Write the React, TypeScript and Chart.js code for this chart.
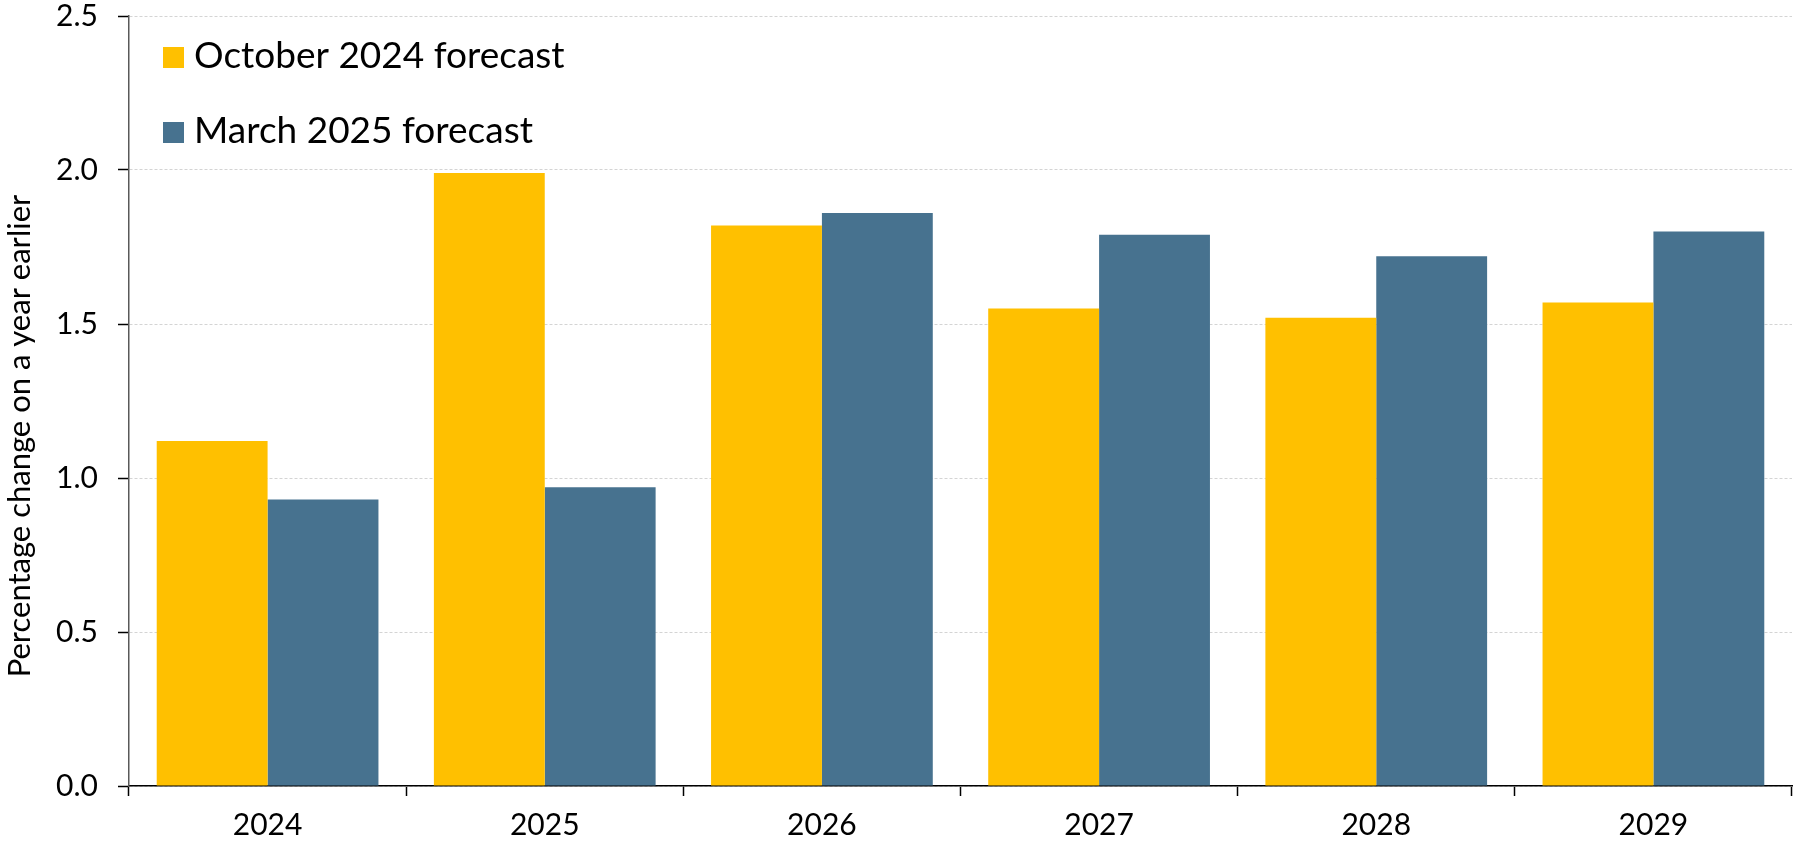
import React, { useEffect, useRef } from "react";
import { Chart, registerables } from "chart.js";

Chart.register(...registerables);

const categories = ["2024", "2025", "2026", "2027", "2028", "2029"];
const october2024 = [1.12, 1.99, 1.82, 1.55, 1.52, 1.57];
const march2025 = [0.93, 0.97, 1.86, 1.79, 1.72, 1.8];
const seriesLabels = ["October 2024 forecast", "March 2025 forecast"];
const seriesColors = ["#FFC000", "#47728F"];
const yTicks = [0, 0.5, 1.0, 1.5, 2.0, 2.5];
const yAxisTitle = "Percentage change on a year earlier";

const FONT = "Lato";

const overlayPlugin = {
  id: "overlay",
  afterDraw(chart: any) {
    const ctx = chart.ctx;
    const area = chart.chartArea;
    ctx.save();
    chart.data.datasets.forEach((ds: any, i: number) => {
      const baseY = 68 + i * 75;
      ctx.fillStyle = ds.backgroundColor;
      ctx.fillRect(area.left + 34, baseY - 21, 21, 21);
      ctx.fillStyle = "#000";
      ctx.font = `37px ${FONT}`;
      ctx.textAlign = "left";
      ctx.textBaseline = "alphabetic";
      ctx.fillText(ds.label, area.left + 65, baseY);
    });
    ctx.translate(20, 436);
    ctx.rotate(-Math.PI / 2);
    ctx.textAlign = "center";
    ctx.textBaseline = "middle";
    ctx.font = `31px ${FONT}`;
    ctx.fillStyle = "#000";
    ctx.fillText(yAxisTitle, 0, 0);
    ctx.restore();
  },
};

export default function App() {
  const ref = useRef<HTMLCanvasElement | null>(null);

  useEffect(() => {
    document.body.style.margin = "0";
    if (!ref.current) return;
    const chart = new Chart(ref.current, {
      type: "bar",
      data: {
        labels: categories,
        datasets: [
          {
            label: seriesLabels[0],
            data: october2024,
            backgroundColor: seriesColors[0],
            borderWidth: 0,
            categoryPercentage: 0.8,
            barPercentage: 1.0,
          },
          {
            label: seriesLabels[1],
            data: march2025,
            backgroundColor: seriesColors[1],
            borderWidth: 0,
            categoryPercentage: 0.8,
            barPercentage: 1.0,
          },
        ],
      },
      options: {
        responsive: false,
        animation: false,
        layout: { padding: { left: 0, right: 6, top: 16, bottom: 0 } },
        plugins: {
          legend: { display: false },
          tooltip: { enabled: false },
          title: { display: false },
        },
        scales: {
          x: {
            grid: {
              drawOnChartArea: false,
              offset: true,
              tickLength: 10,
              tickColor: "#000",
              tickWidth: 1.5,
            },
            border: { color: "#000", width: 1.5 },
            ticks: {
              font: { family: FONT, size: 30 },
              color: "#000",
              padding: 11,
            },
            afterFit: (s: any) => {
              s.height = 57;
              s.paddingLeft = 0;
              s.paddingRight = 0;
            },
          },
          y: {
            min: 0,
            max: 2.5,
            afterBuildTicks: (s: any) => {
              s.ticks = yTicks.map((v) => ({ value: v }));
            },
            ticks: {
              font: { family: FONT, size: 30 },
              color: "#000",
              padding: 20,
              callback: (v: any) => Number(v).toFixed(1),
            },
            grid: {
              color: "#d4d4d4",
              lineWidth: 1,
              tickColor: "#000",
              tickLength: 11,
              tickWidth: 1.5,
            },
            border: { color: "#595959", width: 1.5, dash: [3, 2] },
            afterFit: (s: any) => {
              s.width = 129;
              s.paddingTop = 0;
              s.paddingBottom = 0;
            },
          },
        },
      },
      plugins: [overlayPlugin],
    });
    return () => chart.destroy();
  }, []);

  return (
    <div style={{ width: 1798, height: 843 }}>
      <canvas ref={ref} width={1798} height={843} style={{ width: 1798, height: 843, display: "block" }} />
    </div>
  );
}
